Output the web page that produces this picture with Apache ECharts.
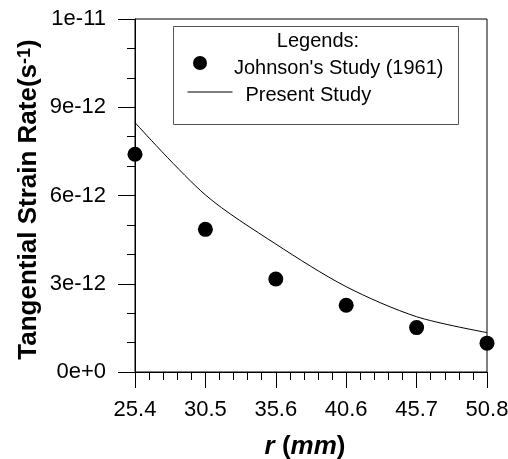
<!DOCTYPE html>
<html><head><meta charset="utf-8">
<script src="https://cdn.jsdelivr.net/npm/echarts@6/dist/echarts.min.js"></script>
<style>html,body{margin:0;padding:0;background:#fff}#c{width:508px;height:459px}</style>
</head><body><div id="c"></div>
<script>
const rValues = [25.4, 30.48, 35.56, 40.64, 45.72, 50.8];
const johnsonRates = [7.40e-12, 4.85e-12, 3.16e-12, 2.27e-12, 1.51e-12, 0.98e-12];
const presentRates = [8.48e-12, 6.02e-12, 4.35e-12, 2.90e-12, 1.88e-12, 1.34e-12];
const xTickLabels = ['25.4', '30.5', '35.6', '40.6', '45.7', '50.8'];
const yTickLabels = ['0e+0', '3e-12', '6e-12', '9e-12', '1e-11'];
const seriesNames = ["Johnson's Study (1961)", 'Present Study'];
const legendTitle = 'Legends:';

const FF = "'Liberation Sans', Arial, Helvetica, sans-serif";
const X_MIN = 25.4, X_MAX = 50.8, X_INT = 5.08;
const Y_MIN = 0, Y_MAX = 1.2e-11, Y_INT = 3e-12;

const chart = echarts.init(document.getElementById('c'), null, {renderer: 'canvas'});
chart.setOption({
  backgroundColor: '#fff',
  animation: false,
  grid: {left: 135, right: 21, top: 19, bottom: 87, show: true, borderColor: '#000', borderWidth: 1,
         backgroundColor: 'transparent', containLabel: false, outerBoundsMode: 'none'},
  xAxis: {
    type: 'value', min: X_MIN, max: X_MAX, interval: X_INT,
    axisLine: {show: true, onZero: false, lineStyle: {color: '#000', width: 1}},
    axisTick: {show: true, inside: false, length: 16, lineStyle: {color: '#000', width: 1}},
    minorTick: {show: true, splitNumber: 5, length: 8, lineStyle: {color: '#000', width: 1}},
    splitLine: {show: false},
    axisLabel: {margin: 27, fontSize: 22, color: '#000', fontFamily: FF,
      formatter: v => xTickLabels[Math.round((v - X_MIN) / X_INT)] ?? ''},
    name: '{i|r}{p| (}{i|mm}{p|)}',
    nameLocation: 'middle', nameGap: 62,
    nameTextStyle: {padding: [0, 12, 0, 0], rich: {
      i: {fontSize: 26, fontWeight: 'bold', fontStyle: 'italic', fontFamily: FF, color: '#000'},
      p: {fontSize: 26, fontWeight: 'bold', fontFamily: FF, color: '#000'}
    }}
  },
  yAxis: {
    type: 'value', min: Y_MIN, max: Y_MAX, interval: Y_INT,
    axisLine: {show: true, onZero: false, lineStyle: {color: '#000', width: 1}},
    axisTick: {show: true, inside: false, length: 17, lineStyle: {color: '#000', width: 1}},
    minorTick: {show: true, splitNumber: 3, length: 8, lineStyle: {color: '#000', width: 1}},
    splitLine: {show: false},
    axisLabel: {margin: 29, fontSize: 22, color: '#000', fontFamily: FF,
      formatter: v => yTickLabels[Math.round(v / Y_INT)] ?? ''},
    name: '{m|Tangential Strain Rate(s}{s|-1}{m|)}',
    nameLocation: 'middle', nameGap: 93, nameMoveOverlap: false,
    nameTextStyle: {padding: [0, 8, 0, 0], rich: {
      m: {fontSize: 26, fontWeight: 'bold', fontFamily: FF, color: '#000', verticalAlign: 'bottom', lineHeight: 26},
      s: {fontSize: 18, fontWeight: 'bold', fontFamily: FF, color: '#000', verticalAlign: 'top', lineHeight: 18, padding: [0, 0, 20, 0]}
    }}
  },
  legend: [
    {data: [seriesNames[0]], left: 193, top: 56, padding: 0, orient: 'vertical',
     itemWidth: 14, itemHeight: 14, selectedMode: false,
     formatter: '{t|{name}}',
     textStyle: {fontSize: 20, fontFamily: FF, color: '#000', padding: [0, 0, 0, 22],
       rich: {t: {fontSize: 20, fontFamily: FF, color: '#000', padding: [10, 0, 0, 0]}}}},
    {data: [seriesNames[1]], left: 187, top: 85, padding: 0, orient: 'vertical',
     itemWidth: 45, itemHeight: 14, selectedMode: false,
     itemStyle: {color: 'rgba(0,0,0,0)', borderColor: 'rgba(0,0,0,0)', borderWidth: 0},
     lineStyle: {color: '#000', width: 1},
     formatter: '{t|{name}}',
     textStyle: {fontSize: 20, fontFamily: FF, color: '#000', padding: [0, 0, 0, 8],
       rich: {t: {fontSize: 20, fontFamily: FF, color: '#000', padding: [6, 0, 0, 0]}}}}
  ],
  graphic: [
    {type: 'rect', left: 173, top: 26, shape: {width: 285, height: 98}, style: {fill: 'transparent', stroke: '#555', lineWidth: 1}, z: 1},
    {type: 'text', x: 318, y: 41, style: {text: legendTitle, fontSize: 20, fontFamily: FF, fill: '#000', align: 'center', verticalAlign: 'middle'}, z: 2}
  ],
  series: [
    {name: seriesNames[0], type: 'scatter', symbol: 'circle', symbolSize: 15,
     itemStyle: {color: '#000', opacity: 1}, data: rValues.map((r, i) => [r, johnsonRates[i]]), z: 3, clip: false},
    {name: seriesNames[1], type: 'line', symbol: 'none', smooth: 0.3,
     lineStyle: {color: '#000', width: 1}, itemStyle: {color: '#000'},
     data: rValues.map((r, i) => [r, presentRates[i]]), z: 2}
  ]
});
</script></body></html>
